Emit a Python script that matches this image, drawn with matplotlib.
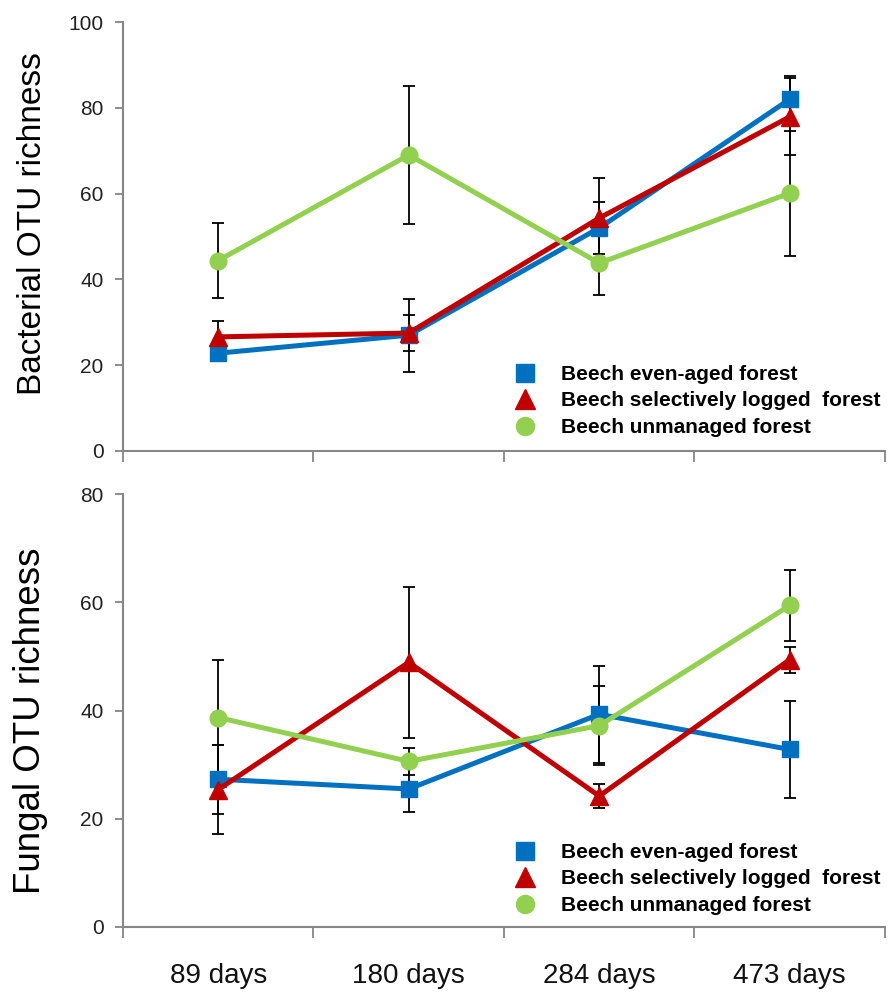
import matplotlib
matplotlib.use("Agg")
import matplotlib.pyplot as plt
from matplotlib.lines import Line2D
import numpy as np

plt.rcParams['font.family'] = ['Liberation Sans', 'DejaVu Sans']

days = ["89 days", "180 days", "284 days", "473 days"]
series = ["Beech even-aged forest", "Beech selectively logged  forest", "Beech unmanaged forest"]

# bacterial OTU richness (mean, error)
bact_even = [22.8, 27.0, 52.0, 82.0]
bact_even_err = [1.5, 8.5, 6.0, 5.5]
bact_sel = [26.6, 27.5, 54.3, 77.9]
bact_sel_err = [3.8, 4.2, 9.3, 9.0]
bact_unm = [44.4, 69.0, 43.8, 60.1]
bact_unm_err = [8.8, 16.0, 7.4, 14.6]

# fungal OTU richness (mean, error)
fung_even = [27.3, 25.5, 39.3, 32.8]
fung_even_err = [6.4, 4.2, 9.0, 9.0]
fung_sel = [25.4, 48.9, 24.2, 49.4]
fung_sel_err = [8.3, 13.9, 2.3, 2.4]
fung_unm = [38.7, 30.6, 37.2, 59.4]
fung_unm_err = [10.7, 2.5, 7.3, 6.5]

colors = ["#0070C0", "#C00000", "#92D050"]
markers = ["s", "^", "o"]
msizes = [12, 13, 12]
spine_col = "#868686"

fig = plt.figure(figsize=(8.95, 9.92), dpi=100)
ax1 = fig.add_axes([123 / 895, 1 - 451 / 992, 762 / 895, 429 / 992])
ax2 = fig.add_axes([123 / 895, 1 - 927 / 992, 762 / 895, 433 / 992])

x = np.arange(len(days))


def draw(ax, vals, errs, ymax, ylabel, ylab_size, show_xlabels, leg_top):
    for i in range(3):
        ax.errorbar(x, vals[i], yerr=errs[i], fmt="none", ecolor="black",
                    elinewidth=1.3, capsize=4, capthick=1.3, zorder=2)
    for i in range(3):
        ax.plot(x, vals[i], color=colors[i], lw=3.6, marker=markers[i],
                ms=msizes[i], zorder=3 + i)
    ax.set_xlim(-0.5, 3.5)
    ax.set_ylim(0, ymax)
    ax.set_yticks(np.arange(0, ymax + 1, 20))
    ax.set_xticks(np.arange(-0.5, 3.6, 1.0))
    ax.set_xticks(x, minor=True)
    ax.tick_params(axis="x", which="major", length=8, width=1.3, color=spine_col,
                   labelbottom=False)
    ax.tick_params(axis="x", which="minor", length=0, labelsize=20, pad=26,
                   labelbottom=show_xlabels, labelcolor="#111111")
    if show_xlabels:
        ax.set_xticklabels(days, minor=True)
    ax.tick_params(axis="y", length=6, width=1.3, color=spine_col, labelsize=15,
                   pad=8, labelcolor="#222222")
    for s in ["top", "right"]:
        ax.spines[s].set_visible(False)
    for s in ["left", "bottom"]:
        ax.spines[s].set_color(spine_col)
        ax.spines[s].set_linewidth(1.5)
    ax.set_ylabel(ylabel, fontsize=ylab_size)

    handles = [Line2D([], [], ls="none", marker=markers[i], color=colors[i],
                      ms=msizes[i] + 1) for i in range(3)]
    fig.legend(handles, series, loc="upper left",
               bbox_to_anchor=(515 / 895, leg_top), bbox_transform=fig.transFigure,
               frameon=False, handlelength=1.0, handletextpad=1.2,
               labelspacing=0.36, borderpad=0, borderaxespad=0,
               prop={"size": 15, "weight": "bold"})


draw(ax1, [bact_even, bact_sel, bact_unm],
     [bact_even_err, bact_sel_err, bact_unm_err], 100,
     "Bacterial OTU richness", 24, False, 1 - 365 / 992)
draw(ax2, [fung_even, fung_sel, fung_unm],
     [fung_even_err, fung_sel_err, fung_unm_err], 80,
     "Fungal OTU richness", 26.4, True, 1 - 843 / 992)

ax1.yaxis.set_label_coords(-0.098, 0.53)
ax2.yaxis.set_label_coords(-0.098, 0.477)

fig.savefig("out.png", dpi=100)
